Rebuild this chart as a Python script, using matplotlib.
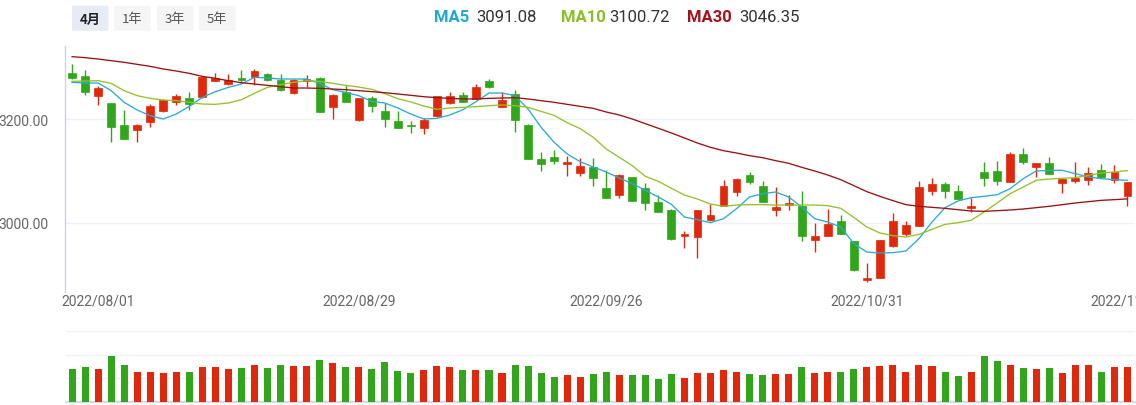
import matplotlib.pyplot as plt
from matplotlib.patches import FancyBboxPatch

# ---- data (index 0 = 2022/07/28, last = 2022/11/28) ----
tick_pos = [2, 22, 41, 61, 81]
tick_labels = ['2022/08/01', '2022/08/29', '2022/09/26', '2022/10/31', '2022/11/28']

opens = [3288.5, 3283.3, 3244.9, 3230.8, 3188.5, 3178.8, 3194.2, 3215.4, 3233.3, 3241.0,
         3242.9, 3272.4, 3266.7, 3278.2, 3280.1, 3285.9, 3275.0, 3249.4, 3274.0, 3278.8,
         3222.4, 3251.3, 3198.7, 3239.7, 3216.0, 3196.2, 3187.8, 3182.1, 3206.4, 3230.8,
         3246.2, 3238.5, 3272.4, 3222.4, 3248.1, 3188.5, 3123.1, 3127.6, 3114.2, 3096.2,
         3107.1, 3066.7, 3054.5, 3089.1, 3067.3, 3039.7, 3025.0, 2975.6, 2972.4, 3006.4,
         3033.3, 3059.0, 3093.0, 3071.2, 3025.6, 3034.6, 3033.3, 2966.7, 2974.4, 3003.2,
         2964.7, 2891.0, 2894.2, 2956.4, 2978.2, 2994.2, 3060.9, 3075.0, 3062.2, 3028.2,
         3097.4, 3099.4, 3079.5, 3132.7, 3107.1, 3114.8, 3076.3, 3081.4, 3083.3, 3101.9,
         3083.3, 3052.6]
highs = [3305.8, 3294.9, 3262.8, 3230.8, 3217.3, 3189.7, 3228.8, 3238.5, 3248.1, 3252.6,
         3282.0, 3288.5, 3285.9, 3294.9, 3296.2, 3288.5, 3285.9, 3276.9, 3284.6, 3281.4,
         3248.1, 3266.0, 3239.7, 3243.6, 3230.1, 3216.0, 3196.8, 3201.3, 3243.6, 3252.6,
         3252.6, 3266.6, 3276.9, 3251.3, 3255.8, 3189.7, 3136.0, 3140.5, 3128.2, 3124.4,
         3124.4, 3102.6, 3094.3, 3089.1, 3076.3, 3053.9, 3026.9, 2985.3, 3025.0, 3036.5,
         3082.7, 3086.5, 3098.7, 3080.1, 3068.6, 3053.9, 3062.2, 3000.6, 3026.9, 3016.0,
         2964.7, 2922.4, 2967.3, 3019.2, 3003.8, 3080.8, 3086.5, 3079.5, 3073.7, 3047.4,
         3118.0, 3119.9, 3136.0, 3144.4, 3114.8, 3126.3, 3084.6, 3116.7, 3107.1, 3113.5,
         3111.6, 3078.2]
lows = [3276.9, 3246.8, 3226.9, 3156.4, 3160.9, 3156.4, 3185.3, 3212.8, 3226.9, 3217.9,
        3239.7, 3272.4, 3265.4, 3271.2, 3265.4, 3272.4, 3254.5, 3248.1, 3262.2, 3212.8,
        3200.0, 3233.3, 3196.8, 3212.8, 3184.6, 3182.1, 3173.1, 3171.2, 3203.2, 3228.8,
        3233.3, 3238.5, 3259.6, 3222.4, 3174.4, 3123.1, 3100.6, 3113.5, 3091.0, 3091.0,
        3071.8, 3047.4, 3048.1, 3042.9, 3025.0, 3020.5, 2967.9, 2951.9, 2933.3, 3003.8,
        3033.3, 3052.6, 3075.0, 3041.0, 3013.5, 3025.6, 2964.7, 2944.2, 2974.4, 2979.5,
        2908.3, 2885.9, 2894.2, 2953.2, 2975.6, 2994.2, 3054.5, 3048.1, 3046.2, 3020.5,
        3070.5, 3073.7, 3079.5, 3113.5, 3087.8, 3094.3, 3057.1, 3076.3, 3073.7, 3085.9,
        3076.3, 3033.3]
closes = [3279.5, 3251.3, 3259.6, 3185.3, 3160.9, 3188.5, 3225.6, 3237.2, 3244.9, 3228.8,
          3280.8, 3278.2, 3274.4, 3275.6, 3291.7, 3275.6, 3255.8, 3275.0, 3275.0, 3212.8,
          3246.2, 3233.3, 3239.7, 3224.3, 3200.0, 3182.1, 3185.9, 3198.7, 3243.6, 3244.9,
          3233.3, 3261.5, 3262.2, 3237.2, 3198.1, 3123.1, 3113.5, 3119.9, 3115.4, 3109.0,
          3085.9, 3047.4, 3093.0, 3042.9, 3038.5, 3020.5, 2969.2, 2978.2, 3025.0, 3014.7,
          3071.2, 3084.6, 3079.5, 3041.0, 3031.4, 3038.5, 2974.4, 2974.4, 2998.7, 2979.5,
          2910.3, 2891.6, 2967.3, 3003.2, 2996.8, 3069.2, 3075.0, 3060.9, 3046.2, 3033.3,
          3085.9, 3081.4, 3132.7, 3118.0, 3114.8, 3094.3, 3084.6, 3086.5, 3095.5, 3087.8,
          3098.7, 3078.2]

ma5 = [3270.5, 3269.2, 3269.2, 3254.5, 3232.1, 3217.3, 3206.4, 3200.0, 3209.6, 3224.3,
       3241.7, 3252.6, 3260.9, 3267.3, 3280.1, 3278.8, 3276.9, 3276.9, 3276.9, 3268.6,
       3256.4, 3251.3, 3244.9, 3234.0, 3230.8, 3221.2, 3209.6, 3200.0, 3201.3, 3207.7,
       3217.9, 3233.3, 3250.0, 3250.0, 3244.9, 3219.2, 3184.0, 3155.1, 3132.7, 3118.0,
       3107.7, 3098.1, 3086.5, 3075.6, 3062.8, 3050.0, 3035.9, 3011.5, 3006.4, 3000.6,
       3008.3, 3027.6, 3050.0, 3056.4, 3059.6, 3050.0, 3030.8, 3008.3, 3001.9, 2992.3,
       2960.3, 2944.2, 2942.3, 2942.9, 2946.2, 2969.9, 3001.9, 3029.5, 3042.3, 3048.7,
       3051.3, 3054.5, 3066.0, 3085.3, 3100.0, 3101.3, 3101.3, 3094.9, 3088.5, 3085.3,
       3083.3, 3082.1]
ma10 = [3272.4, 3273.1, 3273.7, 3268.6, 3254.5, 3244.9, 3239.7, 3236.5, 3235.3, 3232.1,
        3228.8, 3228.2, 3230.8, 3237.2, 3249.4, 3260.9, 3266.0, 3270.5, 3273.7, 3272.4,
        3268.6, 3264.7, 3261.5, 3257.0, 3248.7, 3239.1, 3232.7, 3225.0, 3218.6, 3221.2,
        3222.4, 3223.7, 3225.6, 3226.9, 3225.6, 3222.4, 3214.7, 3207.0, 3192.9, 3181.4,
        3164.8, 3142.3, 3126.3, 3110.3, 3089.7, 3080.1, 3066.7, 3053.8, 3046.2, 3036.5,
        3032.1, 3034.6, 3035.3, 3035.3, 3034.6, 3034.6, 3034.6, 3034.6, 3033.3, 3028.2,
        3010.9, 2992.3, 2980.8, 2975.6, 2973.1, 2978.2, 2987.8, 2997.4, 3000.6, 3005.1,
        3021.2, 3038.5, 3056.4, 3069.2, 3082.1, 3084.6, 3085.9, 3087.2, 3091.7, 3096.2,
        3098.1, 3100.7]
ma30 = [3319.9, 3318.0, 3315.4, 3312.2, 3309.0, 3305.1, 3301.3, 3296.2, 3292.3, 3287.8,
        3282.0, 3278.2, 3273.7, 3269.8, 3267.3, 3264.7, 3262.2, 3259.6, 3259.6, 3258.9,
        3257.7, 3256.4, 3254.5, 3252.6, 3250.6, 3248.1, 3245.5, 3242.9, 3241.0, 3239.7,
        3238.5, 3238.5, 3239.7, 3240.4, 3241.0, 3238.5, 3235.3, 3232.1, 3228.2, 3224.3,
        3220.5, 3213.5, 3207.7, 3200.0, 3191.0, 3182.1, 3173.1, 3163.5, 3153.8, 3145.5,
        3139.1, 3134.6, 3129.5, 3125.6, 3119.9, 3114.8, 3107.1, 3100.0, 3092.3, 3083.3,
        3071.8, 3060.3, 3051.3, 3043.0, 3035.3, 3032.1, 3030.1, 3028.2, 3025.6, 3023.1,
        3022.4, 3023.7, 3025.0, 3026.9, 3029.5, 3032.1, 3035.3, 3038.5, 3041.0, 3043.6,
        3044.9, 3046.4]

volumes = [140, 150, 140, 193, 158, 125, 129, 121, 125, 125,
           146, 146, 140, 145, 158, 145, 158, 154, 154, 179,
           163, 150, 146, 140, 168, 130, 121, 135, 154, 146,
           135, 135, 135, 121, 158, 154, 121, 107, 113, 107,
           117, 125, 113, 113, 113, 97, 117, 103, 121, 121,
           135, 125, 117, 113, 117, 117, 146, 121, 129, 125,
           139, 146, 154, 158, 125, 158, 154, 125, 111, 129,
           196, 172, 158, 145, 139, 145, 121, 158, 158, 129,
           150, 150]

ma_names = ['MA5', 'MA10', 'MA30']
ma_last = ['3091.08', '3100.72', '3046.35']
periods = ['4月', '1年', '3年', '5年']

# ---- style ----
RED = '#e0290c'
GREEN = '#31a61a'
MA_COLORS = ['#2aaad8', '#92c22a', '#9b1111']
MA_TEXT = ['#1ea6d7', '#8cbf26', '#a0141a']
GRID = '#eef2f7'
AXLINE = '#cbd3ea'
LABEL = '#666666'

plt.rcParams['font.family'] = ['Roboto', 'DejaVu Sans']

W, H = 1136, 406
fig = plt.figure(figsize=(W / 100, H / 100), dpi=100)


def fx(px):
    return px / W


def fy(py):
    return 1 - py / H


n = len(closes)
xs = list(range(n))
colors = [RED if c >= o else GREEN for o, c in zip(opens, closes)]

# main candle axes: left 65px, right 1135px, top 47px, bottom 293px
ax = fig.add_axes([fx(65), fy(293), fx(1135 - 65), (293 - 47) / H])
ax.set_xlim(-0.54, 81.58)
ax.set_ylim(2867.3, 3340.4)

ax.vlines(xs, lows, highs, colors=colors, linewidth=1.0, zorder=3)
bottoms = [min(o, c) for o, c in zip(opens, closes)]
heights = [max(abs(c - o), 2.5) for o, c in zip(opens, closes)]
ax.bar(xs, heights, bottom=bottoms, width=0.6, color=colors,
       edgecolor=colors, linewidth=0.5, zorder=4)

for vals, col in zip([ma5, ma10, ma30], MA_COLORS):
    ax.plot(xs, vals, color=col, linewidth=0.95, zorder=5)

ax.set_yticks([3000, 3200])
ax.set_yticklabels(['3000.00', '3200.00'])
ax.set_xticks(tick_pos)
ax.set_xticklabels(tick_labels)
ax.tick_params(axis='y', length=0, pad=12, labelsize=10, labelcolor=LABEL)
ax.tick_params(axis='x', length=0, pad=1, labelsize=10, labelcolor=LABEL)
ax.grid(axis='y', color=GRID, linewidth=1.0, zorder=0)
for s in ['top', 'right', 'bottom']:
    ax.spines[s].set_visible(False)
ax.spines['left'].set_color(AXLINE)
ax.spines['left'].set_linewidth(1.0)

# volume axes: bottom at 403px, top grid line at 331.7px
axv = fig.add_axes([fx(66), fy(403.3), fx(1135 - 66), (403.3 - 331.7) / H])
axv.set_xlim(-0.54 + 1 / 13.03, 81.58)
axv.set_ylim(0, 300)
axv.bar(xs, volumes, width=0.54, color=colors, zorder=3)
axv.set_yticks([100, 200, 300])
axv.set_xticks([])
axv.tick_params(axis='y', length=0, labelleft=False)
axv.grid(axis='y', color=GRID, linewidth=1.0, zorder=0)
for s in ['top', 'right', 'left']:
    axv.spines[s].set_visible(False)
axv.spines['bottom'].set_color(AXLINE)
axv.spines['bottom'].set_linewidth(1.2)

# period buttons
btn_x = [72, 114, 157, 199]
for i, (lab, x0) in enumerate(zip(periods, btn_x)):
    bg = '#e7ebf5' if i == 0 else '#f5f5f5'
    box = FancyBboxPatch((fx(x0), fy(31.7)), fx(36.5), 25 / H,
                         boxstyle='round,pad=0,rounding_size=0.002',
                         transform=fig.transFigure, facecolor=bg,
                         edgecolor='none')
    fig.patches.append(box)
    fig.text(fx(x0 + 18), fy(19.5), lab, ha='center', va='center',
             fontsize=9.5, color='#222222' if i == 0 else '#555555',
             fontweight='bold' if i == 0 else 'normal',
             family=['Noto Sans CJK SC', 'DejaVu Sans'])

# MA legend in the header
name_x = [434, 561, 687]
val_x = [476, 609, 739]
for name, val, nx, vx, col in zip(ma_names, ma_last, name_x, val_x, MA_TEXT):
    fig.text(fx(nx), fy(17), name, ha='left', va='center', fontsize=12,
             fontweight='bold', color=col)
    fig.text(fx(vx), fy(17), val, ha='left', va='center', fontsize=12,
             color='#333333')

fig.savefig('out.png', dpi=100)
